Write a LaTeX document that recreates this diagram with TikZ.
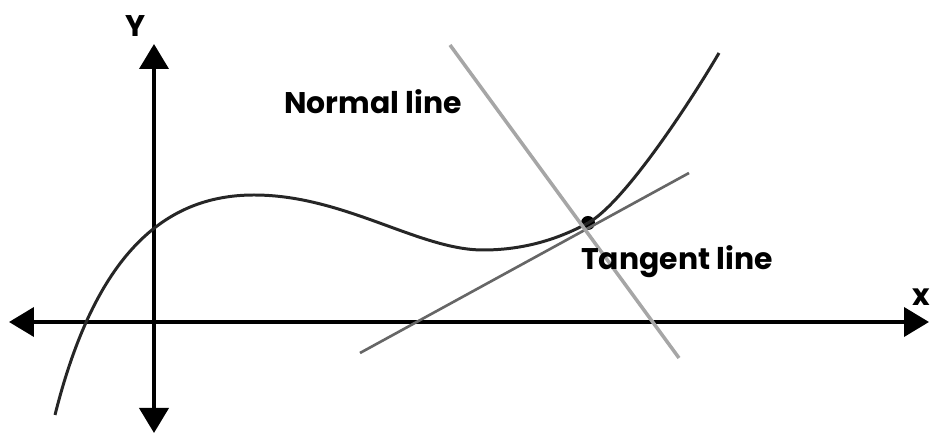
\documentclass[tikz,border=0pt]{standalone}
\usepackage{fontspec}
\newfontfamily\lblfont{Poppins}
\usetikzlibrary{arrows.meta,calc,positioning}

\begin{document}
\begin{tikzpicture}[
axis/.style={line width=2.2pt,{Triangle[length=5mm,width=5.8mm]}-{Triangle[length=5mm,width=5.8mm]}},
curve/.style={line width=1.7pt,black!85},
tangentline/.style={line width=1.5pt,black!60},
normalline/.style={line width=2pt,black!35},
lbl/.style={font=\lblfont\bfseries\fontsize{17}{19}\selectfont,inner sep=0pt}]
\useasboundingbox (-3.08,-2.26) rectangle (15.52,6.44);
% axes
\coordinate (XL) at (-2.9,0);
\coordinate (XR) at (15.5,0);
\coordinate (YB) at (0,-2.22);
\coordinate (YT) at (0,5.56);
\draw[axis] (XL)--(XR);
\draw[axis] (YB)--(YT);
\node[lbl] (Ylab) at (-0.36,5.92) {Y};
\node[lbl] (Xlab) at (15.35,0.5) {x};
% point of contact
\node[circle,fill=black,inner sep=0pt,minimum size=2.8mm] (P) at (8.68,1.98) {};
% the graph
\draw[curve] (-1.98,-1.86) .. controls (-1.18,1.34) and (0.2,2.54) .. (2.0,2.54)
  .. controls (3.8,2.54) and (5.3,1.44) .. (6.58,1.44)
  .. controls (7.3,1.44) and (8.0,1.61) .. (P.center)
  .. controls (9.4,2.38) and (10.7,4.36) .. (11.3,5.38);
% tangent and normal
\coordinate (T1) at (4.12,-0.62);
\coordinate (T2) at (10.7,2.98);
\coordinate (N1) at (5.92,5.54);
\coordinate (N2) at (10.5,-0.72);
\draw[tangentline] (T1)--(T2);
\draw[normalline] (N1)--(N2);
\node[lbl] (Nlab) at (4.38,4.4) {Normal line};
\node[lbl] (Tlab) at (10.46,1.2) {Tangent line};
\end{tikzpicture}
\end{document}
